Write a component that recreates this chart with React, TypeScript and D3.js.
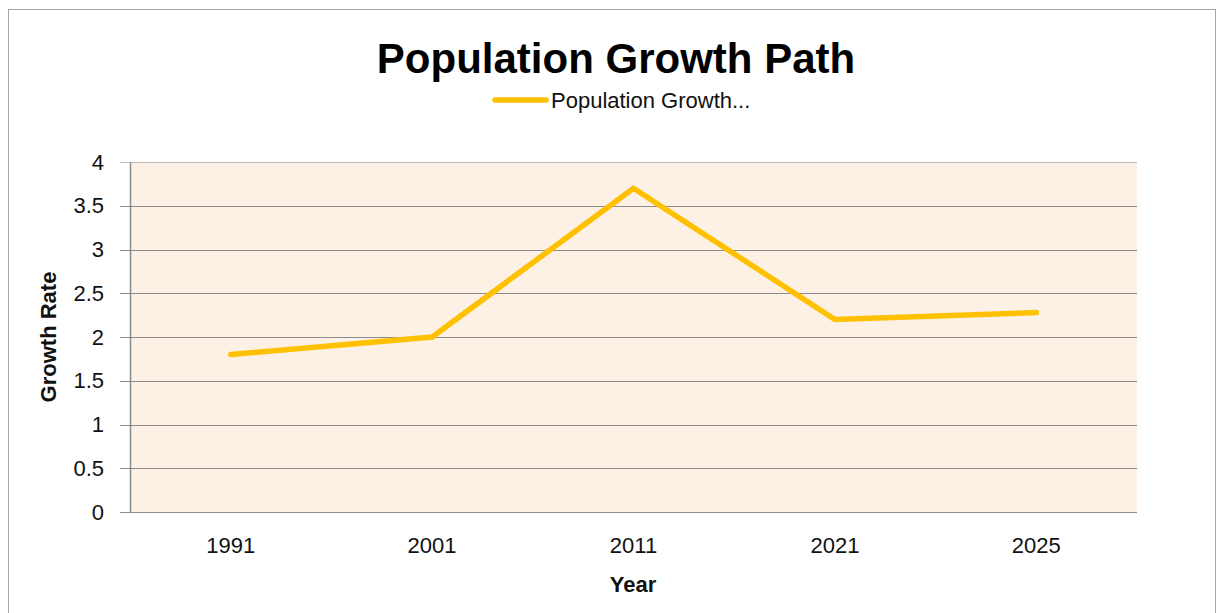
import React from "react";
import * as d3 from "d3";

const years = ["1991", "2001", "2011", "2021", "2025"];
const growthRate = [1.8, 2.0, 3.7, 2.2, 2.28];
const yTicks = [0, 0.5, 1, 1.5, 2, 2.5, 3, 3.5, 4];

const W = 1223;
const H = 613;
const plot = { left: 130, right: 1137, top: 162, bottom: 512 };
const FONT = "'Liberation Sans Narrow', 'Arial Narrow', 'Liberation Sans', Arial, sans-serif";

export default function App() {
  const x = d3.scaleBand<string>().domain(years).range([plot.left, plot.right]);
  const y = d3.scaleLinear().domain([0, 4]).range([plot.bottom, plot.top]);
  const line = d3
    .line<number>()
    .x((_, i) => (x(years[i]) as number) + x.bandwidth() / 2)
    .y((d) => y(d));

  return (
    <svg
      width={W}
      height={H}
      style={{ position: "absolute", left: 0, top: 0, display: "block", background: "#fff" }}
    >
      <rect x={8.5} y={9.5} width={1207} height={640} fill="#fff" stroke="#a6a6a6" strokeWidth={1} />
      <rect
        x={plot.left}
        y={plot.top}
        width={plot.right - plot.left}
        height={plot.bottom - plot.top}
        fill="#fdf1e6"
      />
      {yTicks.map((t) => (
        <g key={t}>
          <line
            x1={plot.left - 10}
            x2={plot.right}
            y1={Math.round(y(t)) + 0.5}
            y2={Math.round(y(t)) + 0.5}
            stroke={t === 4 ? "#c4bcb6" : "#8c8c8c"}
            strokeWidth={1.2}
          />
          <text
            x={104}
            y={y(t)}
            dy="0.35em"
            textAnchor="end"
            fontFamily={FONT}
            fontSize={22}
            fill="#111"
          >
            {t}
          </text>
        </g>
      ))}
      <line
        x1={plot.left + 0.5}
        x2={plot.left + 0.5}
        y1={plot.top}
        y2={plot.bottom}
        stroke="#8c8c8c"
        strokeWidth={1.5}
      />
      {years.map((yr) => (
        <text
          key={yr}
          x={(x(yr) as number) + x.bandwidth() / 2}
          y={545}
          dy="0.35em"
          textAnchor="middle"
          fontFamily={FONT}
          fontSize={22}
          fill="#111"
        >
          {yr}
        </text>
      ))}
      <path
        d={line(growthRate) || ""}
        fill="none"
        stroke="#ffc000"
        strokeWidth={5.5}
        strokeLinecap="round"
        strokeLinejoin="miter"
      />
      <text
        x={616}
        y={58}
        dy="0.35em"
        textAnchor="middle"
        fontFamily={FONT}
        fontSize={42}
        fontWeight="bold"
        fill="#000"
      >
        Population Growth Path
      </text>
      <line x1={495} x2={546} y1={100} y2={100} stroke="#ffc000" strokeWidth={5.5} strokeLinecap="round" />
      <text x={551} y={100} dy="0.35em" fontFamily={FONT} fontSize={22} fill="#111">
        Population Growth...
      </text>
      <text
        x={633}
        y={584}
        dy="0.35em"
        textAnchor="middle"
        fontFamily={FONT}
        fontSize={22}
        fontWeight="bold"
        fill="#111"
      >
        Year
      </text>
      <text
        transform={`translate(48,337) rotate(-90)`}
        dy="0.35em"
        textAnchor="middle"
        fontFamily={FONT}
        fontSize={22}
        fontWeight="bold"
        fill="#111"
      >
        Growth Rate
      </text>
    </svg>
  );
}
